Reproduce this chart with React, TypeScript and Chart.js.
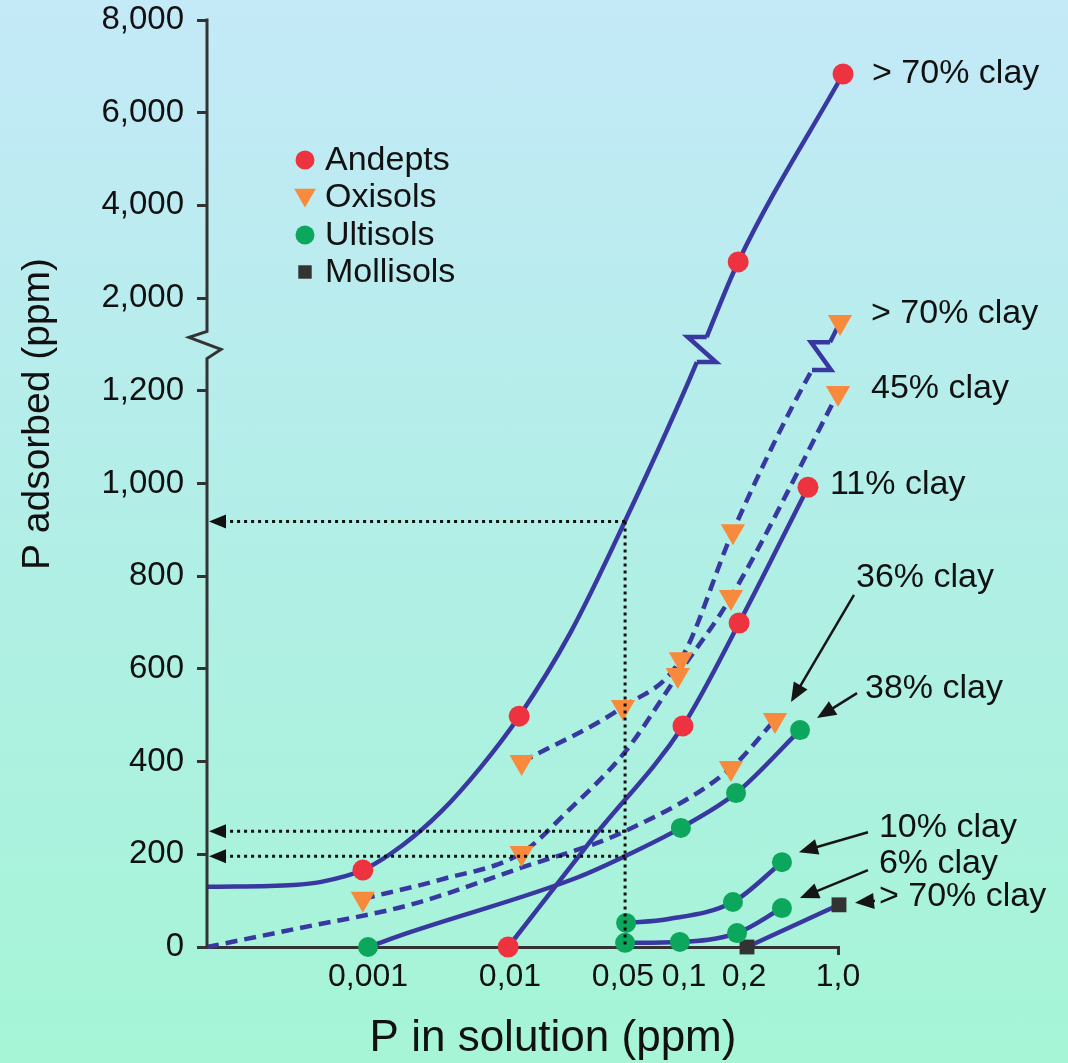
import React, { useEffect, useRef } from 'react';
import { Chart, registerables } from 'chart.js';

Chart.register(...registerables);

// ---------- axis definition ----------
const X_TICK_PPM = [0.001, 0.01, 0.05, 0.1, 0.2, 1.0];
const X_TICK_LABELS = ['0,001', '0,01', '0,05', '0,1', '0,2', '1,0'];
const X_TICK_AXIS = [161, 303, 416, 477, 537, 631];
const X_AXIS_MAX = 631;
const Y_TICK_PPM = [0, 200, 400, 600, 800, 1000, 1200, 2000, 4000, 6000, 8000];
const Y_BREAK_PPM = 1600;

// ---------- data (P in solution ppm / P adsorbed ppm) ----------
// Andepts > 70% clay
const AND70_MARK_SOL = [0.00092, 0.0114, 0.187, 1.09];
const AND70_MARK_ADS = [166, 498, 2780, 6835];
const AND70_LINE_SOL = [0, 0.0003, 0.00046, 0.00092, 0.00174, 0.00327, 0.00615, 0.0114, 0.0238, 0.0512, 0.116, 0.13, 0.187, 1.09];
const AND70_LINE_ADS = [130, 134, 140, 166, 219, 292, 386, 498, 680, 919, 1448, 1664, 2780, 6835];
// Andepts 11% clay
const AND11_MARK_SOL = [0.0097, 0.0988, 0.189, 0.598];
const AND11_MARK_ADS = [0, 477, 699, 992];
const AND11_LINE_SOL = [0.0097, 0.0329, 0.0988, 0.189, 0.598];
const AND11_LINE_ADS = [0, 237, 477, 699, 992];
// Oxisols > 70% clay
const OX70_MARK_SOL = [0.0118, 0.05, 0.0965, 0.176, 1.035];
const OX70_MARK_ADS = [399, 518, 621, 897, 1794];
const OX70_LINE_SOL = [0.0118, 0.05, 0.0965, 0.176, 0.641, 0.872, 1.035];
const OX70_LINE_ADS = [399, 518, 621, 897, 1380, 1620, 1794];
// Oxisols 45% clay
const OX45_MARK_SOL = [0.00092, 0.0118, 0.0932, 0.172, 1.0];
const OX45_MARK_ADS = [104, 203, 587, 755, 1195];
const OX45_LINE_SOL = [0.00092, 0.00321, 0.0118, 0.0232, 0.0512, 0.0932, 0.172, 1.0];
const OX45_LINE_ADS = [104, 145, 203, 296, 421, 587, 755, 1195];
// Oxisols 36% clay
const OX36_MARK_SOL = [0.172, 0.34];
const OX36_MARK_ADS = [386, 490];
const OX36_LINE_SOL = [0, 0.000332, 0.00198, 0.0115, 0.0512, 0.172, 0.34];
const OX36_LINE_ADS = [0, 41, 91, 170, 250, 386, 490];
// Ultisols 38% clay
const ULT38_MARK_SOL = [0.001, 0.0965, 0.1824, 0.522];
const ULT38_MARK_ADS = [0, 257, 332, 468];
const ULT38_LINE_SOL = [0.001, 0.00198, 0.0266, 0.0512, 0.0965, 0.1824, 0.522];
const ULT38_LINE_ADS = [0, 32, 151, 196, 257, 332, 468];
// Ultisols 10% clay
const ULT10_MARK_SOL = [0.0518, 0.176, 0.383];
const ULT10_MARK_ADS = [52, 97, 183];
const ULT10_LINE_SOL = [0.0518, 0.0828, 0.176, 0.383];
const ULT10_LINE_ADS = [52, 60, 97, 183];
// Ultisols 6% clay
const ULT6_SOL = [0.0512, 0.0954, 0.1845, 0.383];
const ULT6_ADS = [9, 11, 30, 84];
// Mollisols > 70% clay
const MOLL_SOL = [0.2105, 1.017];
const MOLL_ADS = [0, 91];

// readings at 0.05 ppm
const READ_SOL = 0.0512;
const READ_ADS = [918, 250, 196];

const SOIL_ORDERS = ['Andepts', 'Oxisols', 'Ultisols', 'Mollisols'];

// ---------- styles ----------
const FONT = '"Liberation Sans", Arial, Helvetica, sans-serif';
const LINE_COLOR = '#3838a0';
const AXIS_COLOR = '#333333';
const TEXT_COLOR = '#111111';
const MARKERS: Record<string, { style: string; color: string; r: number; rot: number }> = {
  Andepts: { style: 'circle', color: '#ee3340', r: 10.5, rot: 0 },
  Oxisols: { style: 'triangle', color: '#f78a3c', r: 14, rot: 180 },
  Ultisols: { style: 'circle', color: '#0ca65c', r: 10, rot: 0 },
  Mollisols: { style: 'rect', color: '#333333', r: 10.5, rot: 0 },
};
const BREAK_W = 19;

type Series = {
  key: string;
  soil: string;
  lineSol: number[];
  lineAds: number[];
  markSol: number[];
  markAds: number[];
  dashed: boolean;
  breakAt?: number;
};

const SERIES: Series[] = [
  { key: 'and70', soil: 'Andepts', lineSol: AND70_LINE_SOL, lineAds: AND70_LINE_ADS, markSol: AND70_MARK_SOL, markAds: AND70_MARK_ADS, dashed: false, breakAt: 10 },
  { key: 'and11', soil: 'Andepts', lineSol: AND11_LINE_SOL, lineAds: AND11_LINE_ADS, markSol: AND11_MARK_SOL, markAds: AND11_MARK_ADS, dashed: false },
  { key: 'ox70', soil: 'Oxisols', lineSol: OX70_LINE_SOL, lineAds: OX70_LINE_ADS, markSol: OX70_MARK_SOL, markAds: OX70_MARK_ADS, dashed: true, breakAt: 4 },
  { key: 'ox45', soil: 'Oxisols', lineSol: OX45_LINE_SOL, lineAds: OX45_LINE_ADS, markSol: OX45_MARK_SOL, markAds: OX45_MARK_ADS, dashed: true },
  { key: 'ox36', soil: 'Oxisols', lineSol: OX36_LINE_SOL, lineAds: OX36_LINE_ADS, markSol: OX36_MARK_SOL, markAds: OX36_MARK_ADS, dashed: true },
  { key: 'ult38', soil: 'Ultisols', lineSol: ULT38_LINE_SOL, lineAds: ULT38_LINE_ADS, markSol: ULT38_MARK_SOL, markAds: ULT38_MARK_ADS, dashed: false },
  { key: 'ult10', soil: 'Ultisols', lineSol: ULT10_LINE_SOL, lineAds: ULT10_LINE_ADS, markSol: ULT10_MARK_SOL, markAds: ULT10_MARK_ADS, dashed: false },
  { key: 'ult6', soil: 'Ultisols', lineSol: ULT6_SOL, lineAds: ULT6_ADS, markSol: ULT6_SOL, markAds: ULT6_ADS, dashed: false },
  { key: 'moll70', soil: 'Mollisols', lineSol: MOLL_SOL, lineAds: MOLL_ADS, markSol: MOLL_SOL, markAds: MOLL_ADS, dashed: false },
];

// label offsets relative to the last measured point of a series (pixels)
const ANNOTATIONS: { series: string; text: string; dx: number; dy: number; arrow?: number[] }[] = [
  { series: 'and70', text: '> 70% clay', dx: 29, dy: 0 },
  { series: 'ox70', text: '> 70% clay', dx: 31, dy: -8 },
  { series: 'ox45', text: '45% clay', dx: 33, dy: -4 },
  { series: 'and11', text: '11% clay', dx: 22, dy: -3 },
  { series: 'ox36', text: '36% clay', dx: 81, dy: -142, arrow: [79, -125, 16, -18] },
  { series: 'ult38', text: '38% clay', dx: 65, dy: -41, arrow: [57, -37, 17, -12] },
  { series: 'ult10', text: '10% clay', dx: 97, dy: -35, arrow: [86, -30, 17, -10] },
  { series: 'ult6', text: '6% clay', dx: 97, dy: -44, arrow: [86, -38, 18, -10] },
  { series: 'moll70', text: '> 70% clay', dx: 40, dy: -8, arrow: [36, -4, 16, -2] },
];

// ---------- transforms ----------
const X_LOGS = X_TICK_PPM.map((v) => Math.log10(v));
function xAxis(p: number): number {
  if (p <= 0) return 0;
  const l = Math.log10(p);
  const n = X_LOGS.length;
  if (l <= X_LOGS[0]) {
    const slope = (X_TICK_AXIS[1] - X_TICK_AXIS[0]) / (X_LOGS[1] - X_LOGS[0]);
    return Math.max(0, X_TICK_AXIS[0] + (l - X_LOGS[0]) * slope);
  }
  if (l >= X_LOGS[n - 1]) {
    const slope = (X_TICK_AXIS[n - 1] - X_TICK_AXIS[n - 2]) / (X_LOGS[n - 1] - X_LOGS[n - 2]);
    return X_TICK_AXIS[n - 1] + (l - X_LOGS[n - 1]) * slope;
  }
  for (let i = 0; i < n - 1; i++) {
    if (l <= X_LOGS[i + 1]) {
      const t = (l - X_LOGS[i]) / (X_LOGS[i + 1] - X_LOGS[i]);
      return X_TICK_AXIS[i] + t * (X_TICK_AXIS[i + 1] - X_TICK_AXIS[i]);
    }
  }
  return X_TICK_AXIS[n - 1];
}
function yAxis(v: number): number {
  if (v <= 1200) return v;
  if (v <= 2000) return 1200 + (v - 1200) * 0.25;
  return 1400 + (v - 2000) * 0.1;
}

function drawMarker(ctx: CanvasRenderingContext2D, soil: string, x: number, y: number, r: number) {
  const m = MARKERS[soil];
  ctx.save();
  ctx.fillStyle = m.color;
  ctx.beginPath();
  if (m.style === 'circle') {
    ctx.arc(x, y, r, 0, Math.PI * 2);
  } else if (m.style === 'triangle') {
    ctx.moveTo(x - r * 0.866, y - r * 0.5);
    ctx.lineTo(x + r * 0.866, y - r * 0.5);
    ctx.lineTo(x, y + r);
    ctx.closePath();
  } else {
    const s = r * Math.SQRT1_2;
    ctx.rect(x - s, y - s, 2 * s, 2 * s);
  }
  ctx.fill();
  ctx.restore();
}

function drawArrow(ctx: CanvasRenderingContext2D, x1: number, y1: number, x2: number, y2: number) {
  const dx = x2 - x1, dy = y2 - y1;
  const len = Math.hypot(dx, dy);
  const ux = dx / len, uy = dy / len;
  const hl = 19, hw = 8;
  const bx = x2 - ux * hl, by = y2 - uy * hl;
  ctx.save();
  ctx.strokeStyle = '#151515';
  ctx.fillStyle = '#151515';
  ctx.lineWidth = 2.5;
  ctx.setLineDash([]);
  ctx.beginPath();
  ctx.moveTo(x1, y1);
  ctx.lineTo(bx + ux * 2, by + uy * 2);
  ctx.stroke();
  ctx.beginPath();
  ctx.moveTo(x2, y2);
  ctx.lineTo(bx - uy * hw, by + ux * hw);
  ctx.lineTo(bx + uy * hw, by - ux * hw);
  ctx.closePath();
  ctx.fill();
  ctx.restore();
}

const decorPlugin = {
  id: 'decor',
  afterDatasetsDraw(chart: any) {
    const ctx: CanvasRenderingContext2D = chart.ctx;
    const xs = chart.scales.x, ys = chart.scales.y;
    const area = chart.chartArea;
    // line breaks (zigzag) on curves
    chart.data.datasets.forEach((ds: any, i: number) => {
      if (ds.breakAt == null) return;
      const meta = chart.getDatasetMeta(i);
      const a = meta.data[ds.breakAt], b = meta.data[ds.breakAt + 1];
      if (!a || !b) return;
      ctx.save();
      ctx.strokeStyle = LINE_COLOR;
      ctx.lineWidth = 4.5;
      ctx.lineJoin = 'miter';
      ctx.setLineDash([]);
      ctx.beginPath();
      ctx.moveTo(a.x, a.y);
      ctx.lineTo(a.x + BREAK_W, a.y);
      ctx.lineTo(b.x - BREAK_W, b.y);
      ctx.lineTo(b.x, b.y);
      ctx.stroke();
      ctx.restore();
    });
    // dotted reading lines
    const rx = xs.getPixelForValue(xAxis(READ_SOL));
    ctx.save();
    ctx.strokeStyle = '#111';
    ctx.fillStyle = '#111';
    ctx.lineWidth = 3;
    ctx.setLineDash([3, 4]);
    const topY = ys.getPixelForValue(yAxis(Math.max(...READ_ADS)));
    ctx.beginPath();
    ctx.moveTo(rx, topY);
    ctx.lineTo(rx, ys.getPixelForValue(0));
    ctx.stroke();
    READ_ADS.forEach((v) => {
      const yy = ys.getPixelForValue(yAxis(v));
      ctx.setLineDash([3, 4]);
      ctx.beginPath();
      ctx.moveTo(rx, yy);
      ctx.lineTo(area.left + 18, yy);
      ctx.stroke();
      ctx.setLineDash([]);
      ctx.beginPath();
      ctx.moveTo(area.left + 2, yy);
      ctx.lineTo(area.left + 19, yy - 7);
      ctx.lineTo(area.left + 19, yy + 7);
      ctx.closePath();
      ctx.fill();
    });
    ctx.restore();
  },
  afterDraw(chart: any) {
    const ctx: CanvasRenderingContext2D = chart.ctx;
    const xs = chart.scales.x, ys = chart.scales.y;
    const area = chart.chartArea;
    // y axis line with break
    const ax = area.left;
    const yb = ys.getPixelForValue(yAxis(Y_BREAK_PPM));
    ctx.save();
    ctx.strokeStyle = AXIS_COLOR;
    ctx.lineWidth = 3;
    ctx.lineJoin = 'miter';
    ctx.setLineDash([]);
    ctx.beginPath();
    ctx.moveTo(ax, area.top - 1.5);
    ctx.lineTo(ax, yb - 13);
    ctx.lineTo(ax - 18, yb - 7);
    ctx.lineTo(ax + 14, yb + 5);
    ctx.lineTo(ax, yb + 14);
    ctx.lineTo(ax, area.bottom + 1.5);
    ctx.stroke();
    ctx.restore();

    // legend
    ctx.save();
    ctx.font = `34px ${FONT}`;
    ctx.fillStyle = TEXT_COLOR;
    ctx.textBaseline = 'middle';
    ctx.textAlign = 'left';
    const legY = [160, 197, 235, 272];
    SOIL_ORDERS.forEach((s, i) => {
      const r = s === 'Oxisols' ? 12.5 : 9.5;
      drawMarker(ctx, s, 305, legY[i] - (s === 'Oxisols' ? 2 : 0), r);
      ctx.fillText(s, 325, legY[i] + 1);
    });
    ctx.restore();

    // annotations
    ctx.save();
    ctx.font = `34px ${FONT}`;
    ctx.fillStyle = TEXT_COLOR;
    ctx.textBaseline = 'middle';
    ctx.textAlign = 'left';
    ANNOTATIONS.forEach((a) => {
      const s = SERIES.find((q) => q.key === a.series)!;
      const n = s.markSol.length - 1;
      const px = xs.getPixelForValue(xAxis(s.markSol[n]));
      const py = ys.getPixelForValue(yAxis(s.markAds[n]));
      ctx.fillText(a.text, px + a.dx, py + a.dy);
      if (a.arrow) drawArrow(ctx, px + a.arrow[0], py + a.arrow[1], px + a.arrow[2], py + a.arrow[3]);
    });
    ctx.restore();

    // axis titles
    ctx.save();
    ctx.fillStyle = TEXT_COLOR;
    ctx.textAlign = 'center';
    ctx.textBaseline = 'middle';
    ctx.font = `44px ${FONT}`;
    ctx.fillText('P in solution (ppm)', 553, 1039);
    ctx.translate(38, 414);
    ctx.rotate(-Math.PI / 2);
    ctx.font = `39px ${FONT}`;
    ctx.fillText('P adsorbed (ppm)', 0, 0);
    ctx.restore();
  },
};

function buildConfig(): any {
  const datasets: any[] = [];
  SERIES.forEach((s) => {
    const m = MARKERS[s.soil];
    datasets.push({
      type: 'line',
      label: s.key + '-line',
      data: s.lineSol.map((p, i) => ({ x: xAxis(p), y: yAxis(s.lineAds[i]) })),
      borderColor: LINE_COLOR,
      borderWidth: 4.5,
      borderDash: s.dashed ? [12, 7] : [],
      borderCapStyle: 'butt',
      pointRadius: 0,
      pointHoverRadius: 0,
      cubicInterpolationMode: 'monotone',
      tension: 0.4,
      fill: false,
      clip: false,
      order: 2,
      breakAt: s.breakAt,
      segment: s.breakAt != null ? {
        borderColor: (c: any) => (c.p0DataIndex === s.breakAt ? 'rgba(0,0,0,0)' : undefined),
        borderDash: (c: any) => (c.p0DataIndex > (s.breakAt as number) ? [] : undefined),
      } : undefined,
    });
    datasets.push({
      type: 'line',
      label: s.soil,
      data: s.markSol.map((p, i) => ({ x: xAxis(p), y: yAxis(s.markAds[i]) })),
      showLine: false,
      pointStyle: m.style,
      pointRotation: m.rot,
      pointRadius: m.r,
      pointHoverRadius: m.r,
      pointBackgroundColor: m.color,
      pointBorderWidth: 0,
      pointBorderColor: m.color,
      clip: false,
      order: 1,
    });
  });

  return {
    type: 'line',
    data: { datasets },
    options: {
      animation: false,
      responsive: true,
      maintainAspectRatio: false,
      layout: { padding: { left: 0, top: 20, right: 230, bottom: 0 } },
      plugins: { legend: { display: false }, tooltip: { enabled: false }, title: { display: false } },
      events: [],
      scales: {
        x: {
          type: 'linear',
          min: 0,
          max: X_AXIS_MAX,
          afterBuildTicks: (sc: any) => {
            sc.ticks = X_TICK_PPM.map((p) => ({ value: xAxis(p) }));
          },
          afterFit: (sc: any) => {
            sc.height = 116;
            sc.paddingLeft = 0;
            sc.paddingRight = 0;
          },
          ticks: {
            callback: (_v: any, i: number) => X_TICK_LABELS[i],
            font: { size: 32, family: FONT },
            color: TEXT_COLOR,
            padding: 3,
            maxRotation: 0,
            minRotation: 0,
            autoSkip: false,
          },
          grid: {
            drawOnChartArea: false,
            drawTicks: true,
            tickLength: 8,
            lineWidth: 3,
            color: (c: any) => (c.index === X_TICK_PPM.length - 1 ? AXIS_COLOR : 'rgba(0,0,0,0)'),
          },
          border: { display: true, color: AXIS_COLOR, width: 3 },
        },
        y: {
          type: 'linear',
          min: 0,
          max: yAxis(8000),
          afterBuildTicks: (sc: any) => {
            sc.ticks = Y_TICK_PPM.map((v) => ({ value: yAxis(v) }));
          },
          afterFit: (sc: any) => {
            sc.width = 207;
            sc.paddingTop = 0;
            sc.paddingBottom = 0;
          },
          ticks: {
            callback: (_v: any, i: number) => Y_TICK_PPM[i].toLocaleString('en-US'),
            font: { size: 33, family: FONT },
            color: TEXT_COLOR,
            padding: 13,
            autoSkip: false,
          },
          grid: {
            drawOnChartArea: false,
            drawTicks: true,
            tickLength: 10,
            lineWidth: 3,
            color: AXIS_COLOR,
          },
          border: { display: false },
        },
      },
    },
    plugins: [decorPlugin],
  };
}

export default function App() {
  const ref = useRef<HTMLCanvasElement | null>(null);
  useEffect(() => {
    if (!ref.current) return;
    const chart = new Chart(ref.current, buildConfig());
    return () => chart.destroy();
  }, []);
  return (
    <div
      style={{
        position: 'fixed',
        left: 0,
        top: 0,
        width: 1068,
        height: 1063,
        background: 'linear-gradient(to bottom, #c4e9f8 0%, #b3eee8 45%, #a5f5d6 100%)',
      }}
    >
      <canvas ref={ref} />
    </div>
  );
}
